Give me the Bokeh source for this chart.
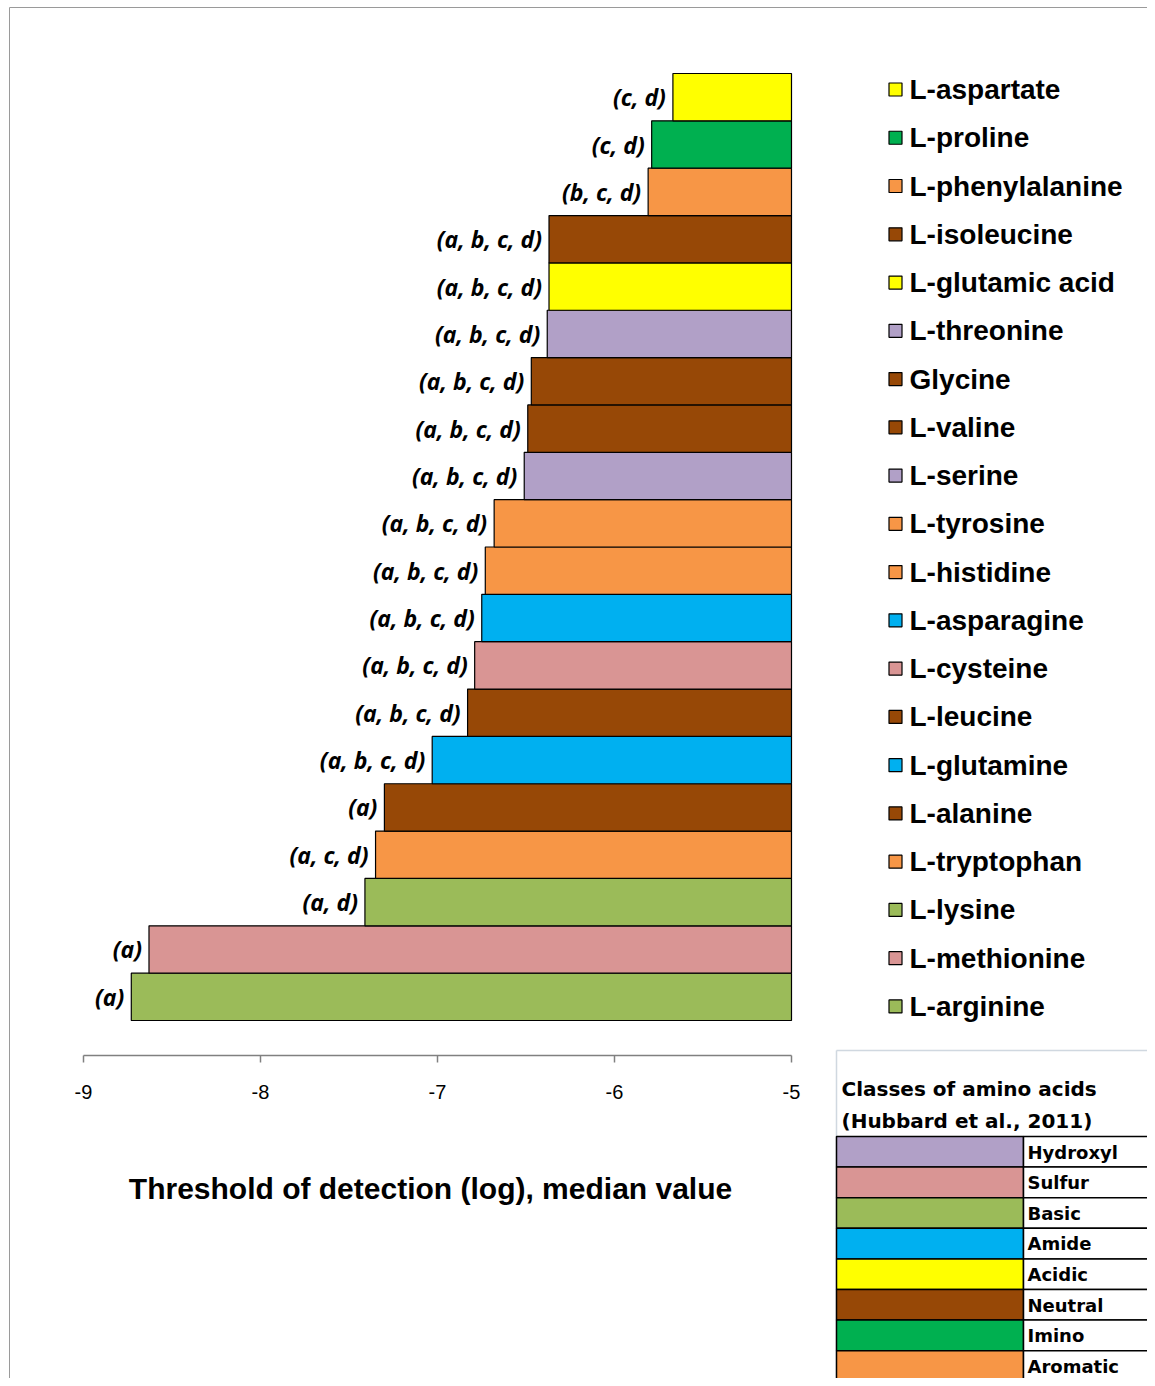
from bokeh.plotting import figure
from bokeh.models import Range1d
from bokeh.core.properties import value
from bokeh.embed import file_html
from bokeh.resources import INLINE

# bars listed bottom to top
acids = ["L-arginine", "L-methionine", "L-lysine", "L-tryptophan", "L-alanine",
         "L-glutamine", "L-leucine", "L-cysteine", "L-asparagine", "L-histidine",
         "L-tyrosine", "L-serine", "L-valine", "Glycine", "L-threonine",
         "L-glutamic acid", "L-isoleucine", "L-phenylalanine", "L-proline", "L-aspartate"]
thresholds = [-8.73, -8.63, -7.41, -7.35, -7.30, -7.03, -6.83, -6.79, -6.75, -6.73,
              -6.68, -6.51, -6.49, -6.47, -6.38, -6.37, -6.37, -5.81, -5.79, -5.67]
groups = ["(a)", "(a)", "(a, d)", "(a, c, d)", "(a)", "(a, b, c, d)", "(a, b, c, d)",
          "(a, b, c, d)", "(a, b, c, d)", "(a, b, c, d)", "(a, b, c, d)", "(a, b, c, d)",
          "(a, b, c, d)", "(a, b, c, d)", "(a, b, c, d)", "(a, b, c, d)", "(a, b, c, d)",
          "(b, c, d)", "(c, d)", "(c, d)"]
classes = ["Basic", "Sulfur", "Basic", "Aromatic", "Neutral", "Amide", "Neutral",
           "Sulfur", "Amide", "Aromatic", "Aromatic", "Hydroxyl", "Neutral", "Neutral",
           "Hydroxyl", "Acidic", "Neutral", "Aromatic", "Imino", "Acidic"]
class_names = ["Hydroxyl", "Sulfur", "Basic", "Amide", "Acidic", "Neutral", "Imino", "Aromatic"]
class_colors = ["#B1A0C7", "#D99594", "#9BBB59", "#00B0F0", "#FFFF00", "#974806", "#00B050", "#F79646"]
x_ticks = [-9, -8, -7, -6, -5]
baseline = -5

cmap = dict(zip(class_names, class_colors))
colors = [cmap[c] for c in classes]

W, H = 1147, 1378
PX = 177.0     # pixels per log unit
PY = 47.35     # pixels per bar
x0 = -9 - 83 / PX
y1 = len(acids) - 0.5 + 73 / PY


def X(sx):
    return x0 + sx / PX


def Y(sy):
    return y1 - sy / PY


p = figure(width=W, height=H, output_backend="svg", toolbar_location=None,
           x_range=Range1d(x0, x0 + W / PX), y_range=Range1d(y1 - H / PY, y1),
           min_border=0, outline_line_color=None)
p.axis.visible = False
p.grid.visible = False

# frame lines (left / top)
p.segment([X(9), X(9)], [Y(7), Y(7)], [X(9), X(1160)], [Y(1390), Y(7)],
          line_color="#9a9a9a", line_width=1)

ys = list(range(len(acids)))
p.hbar(y=ys, left=thresholds, right=baseline, height=1.0, fill_color=colors,
       line_color="black", line_width=1.2)
p.text([t - 7 / PX for t in thresholds], ys, text=groups, text_align="right",
       text_baseline="middle", text_font=value("Open Sans"), text_font_size="23px",
       text_font_style="bold italic", text_color="black")

# x axis
ay = Y(1055)
p.segment(x_ticks[0], ay, x_ticks[-1], ay, line_color="#808080", line_width=1.5)
p.segment(x_ticks, [ay] * 5, x_ticks, [ay - 7 / PY] * 5, line_color="#808080", line_width=1.5)
p.text(x_ticks, [Y(1091)] * 5, text=[str(t) for t in x_ticks], text_align="center",
       text_baseline="middle", text_font=value("Liberation Sans"), text_font_size="20px")
p.text([X(430)], [Y(1188)], text=["Threshold of detection (log), median value"],
       text_align="center", text_baseline="middle", text_font=value("Liberation Sans"),
       text_font_size="30px", text_font_style="bold")

# legend
n = len(acids)
ly = [Y(89 + k * 48.26) for k in range(n)]
p.rect([X(895)] * n, ly, width=13 / PX, height=13 / PY, fill_color=colors[::-1],
       line_color="black", line_width=1.2)
p.text([X(909)] * n, ly, text=acids[::-1], text_baseline="middle",
       text_font=value("Liberation Sans"), text_font_size="28px", text_font_style="bold")

# classes table
p.segment([X(836), X(836)], [Y(1050), Y(1050)], [X(836), X(1160)], [Y(1390), Y(1050)],
          line_color="#d0d8e0", line_width=1.5)
p.text([X(841), X(841)], [Y(1088), Y(1120)],
       text=["Classes of amino acids", "(Hubbard et al., 2011)"], text_baseline="middle",
       text_font=value("DejaVu Sans"), text_font_size="20px", text_font_style="bold")
m = len(class_names)
rh = 30.6
rt = [1136 + k * rh for k in range(m)]
p.quad(left=X(836), right=X(1023), top=[Y(t) for t in rt], bottom=[Y(t + rh) for t in rt],
       fill_color=class_colors, line_color="black", line_width=1.5)
p.quad(left=X(1023), right=X(1160), top=[Y(t) for t in rt], bottom=[Y(t + rh) for t in rt],
       fill_color="white", line_color="black", line_width=1.5)
p.text([X(1027)] * m, [Y(t + 15.5) for t in rt], text=class_names, text_baseline="middle",
       text_font=value("DejaVu Sans"), text_font_size="18px", text_font_style="bold")

open("out.html", "w").write(file_html(p, INLINE))
